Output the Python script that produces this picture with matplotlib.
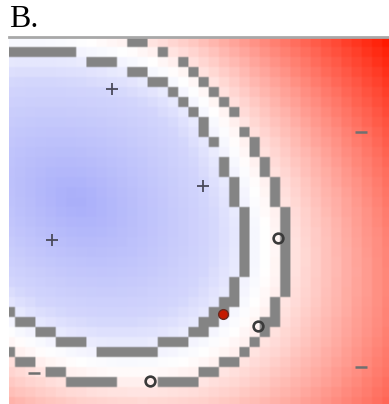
import numpy as np
import matplotlib
matplotlib.use('Agg')
import matplotlib.pyplot as plt
from matplotlib.colors import LinearSegmentedColormap, TwoSlopeNorm

# size of the decision map, in cells
n_cols, n_rows = 38, 37

# training points, in cell units (column, row counted from the top)
pos_x = [10.5, 19.4, 4.6]
pos_y = [5.2, 14.9, 20.3]
neg_x = [34.9, 34.9, 2.9]
neg_y = [9.5, 33.0, 33.6]
sv_x = [26.8, 24.8, 14.2]
sv_y = [20.1, 28.9, 34.4]
err_x = [21.4]
err_y = [27.7]

# elliptical decision surface: +1 on the inner margin, -1 on the outer one
center = (7.0, 16.4)
semi_axes = (18.0, 13.1)
angle = 35.0
outer_scale = 1.25
# gaussian bulge on the upper right side of the boundary
bulge_center = (16.0, 6.5)
bulge_width = 5.0
bulge_height = 0.8
margin_tol = 0.24


def decision(X, Y):
    t = np.deg2rad(angle)
    dx, dy = X - center[0], Y - center[1]
    u = dx * np.cos(t) + dy * np.sin(t)
    v = -dx * np.sin(t) + dy * np.cos(t)
    rho = np.hypot(u / semi_axes[0], v / semi_axes[1])
    d2 = (X - bulge_center[0]) ** 2 + (Y - bulge_center[1]) ** 2
    bulge = bulge_height * np.exp(-d2 / (2 * bulge_width ** 2))
    return 1 - 2 * (rho - 1) / (outer_scale - 1) + bulge


X, Y = np.meshgrid(np.arange(n_cols) + 0.5, np.arange(n_rows) + 0.5)
F = decision(X, Y)

cmap = LinearSegmentedColormap.from_list(
    'svm', [(0.0, (1.0, 0.1, 0.0)),
            (0.5, (1.0, 1.0, 1.0)),
            (0.65, (0.83, 0.84, 0.99)),
            (1.0, (0.67, 0.69, 0.98))])
norm = TwoSlopeNorm(vmin=-11, vcenter=0, vmax=8.7)
rgb = cmap(norm(F))[..., :3]

# margins drawn as the cells that fall on the +1 / -1 levels
gray = np.array([0.52, 0.52, 0.52])
on_margin = (np.abs(F - 1) < margin_tol) | (np.abs(F + 1) < margin_tol)
rgb[on_margin] = gray

# blow the cells up a little so the smoothing only softens their edges
big = np.repeat(np.repeat(rgb, 6, axis=0), 6, axis=1)

fig = plt.figure(figsize=(3.89, 4.04), dpi=100)
ax = fig.add_axes([9 / 389, 0, 380 / 389, 367 / 404])
ax.imshow(big, extent=(0, n_cols, n_rows, 0), interpolation='bilinear',
          aspect='auto')

ax.plot(pos_x, pos_y, '+', ms=9, mew=1.3, color='#4a4a5a')
ax.plot(neg_x, neg_y, '_', ms=8, mew=1.8, color='#707070')
ax.plot(sv_x, sv_y, 'o', ms=7, mfc='none', mec='#3a3a3a', mew=1.9)
ax.plot(err_x, err_y, 'o', ms=7, mfc='#c41a00', mec='#6a2a20', mew=1)

ax.set_xlim(0.41, 37.67)
ax.set_ylim(36.7, 0)
ax.set_xticks([])
ax.set_yticks([])
for side in ('left', 'right', 'bottom'):
    ax.spines[side].set_visible(False)
ax.spines['top'].set_color('#a8a8a8')
ax.spines['top'].set_linewidth(2)

fig.text(9 / 389, 1 - 27 / 404, 'B.', family='Liberation Serif',
         fontsize=23, va='baseline', ha='left')

fig.savefig('out.png', dpi=100)
